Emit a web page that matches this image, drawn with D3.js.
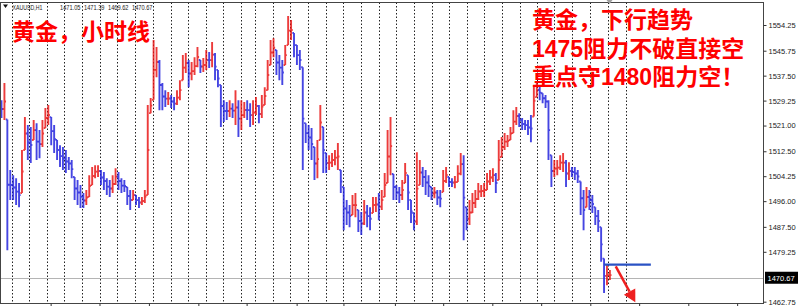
<!DOCTYPE html>
<html>
<head>
<meta charset="utf-8">
<script src="https://cdn.jsdelivr.net/npm/d3@7"></script>
<style>
body { margin: 0; background: #fff; }
.axis text { font-family: "Liberation Sans", Arial, sans-serif; font-size: 7.5px; fill: #222; }
.head { font-family: "Liberation Sans", Arial, sans-serif; font-size: 7px; fill: #222; }
.note { font-family: "Liberation Sans", "Noto Sans CJK SC", sans-serif; font-weight: bold; font-size: 23px; fill: #f00; }
</style>
</head>
<body>
<script>
const width = 800, height = 306;
const plotLeft = 0.5, plotRight = 763.5, plotTop = 2.5, plotBottom = 303.5;

// XAUUSD H1, one entry per bar slot
const highs = [1529.4,1535.1,1523.0,1506.3,1504.6,1503.6,1502.0,1512.9,1523.8,1521.2,
  1520.5,1522.8,1521.8,1519.5,1522.8,1526.8,1527.8,1523.8,1521.2,1516.2,
  1514.5,1513.9,1512.9,1510.6,1509.6,1504.0,1503.0,1501.3,1498.7,1499.7,
  1504.6,1507.3,1507.9,1507.9,1506.3,1505.6,1503.6,1503.0,1504.6,1506.9,
  1505.6,1503.6,1503.0,1500.7,1499.7,1499.7,1498.0,1497.4,1497.4,1499.7,
  1527.8,1530.1,1549.3,1547.0,1542.7,1535.1,1532.7,1532.1,1531.1,1530.4,
  1532.7,1536.0,1544.3,1545.0,1542.7,1542.0,1543.6,1547.0,1542.7,1543.3,
  1546.0,1545.3,1548.6,1545.0,1539.4,1534.4,1529.4,1528.8,1529.4,1528.4,
  1532.7,1529.4,1529.4,1528.8,1529.4,1528.4,1529.4,1530.4,1527.8,1531.1,
  1533.7,1542.7,1549.3,1549.9,1546.0,1544.3,1542.7,1547.6,1557.2,1555.9,
  1551.6,1547.6,1546.0,1540.3,1521.8,1521.2,1520.2,1513.9,1516.2,1527.8,
  1520.5,1511.9,1511.2,1511.9,1512.9,1515.2,1506.3,1500.7,1496.4,1494.7,
  1498.0,1498.7,1493.1,1492.4,1496.4,1494.7,1494.0,1497.4,1497.4,1498.7,
  1499.7,1505.3,1519.5,1523.8,1505.0,1501.3,1500.7,1503.0,1508.6,1504.6,
  1496.4,1492.1,1512.2,1509.6,1507.3,1506.3,1504.6,1500.7,1500.7,1499.7,
  1499.7,1506.3,1507.3,1504.0,1503.6,1504.3,1507.9,1511.9,1511.2,1494.0,
  1496.4,1498.7,1499.7,1502.0,1501.3,1502.0,1505.3,1506.3,1506.9,1505.3,
  1516.2,1517.2,1518.5,1517.9,1520.5,1526.1,1527.1,1525.1,1523.5,1522.8,
  1522.8,1524.5,1534.4,1535.1,1534.4,1531.7,1531.1,1529.4,1511.2,1509.6,
  1509.6,1511.2,1511.9,1509.6,1508.9,1507.3,1507.3,1506.3,1502.5,1499.7,
  1500.7,1499.7,1498.0,1494.0,1493.1,1487.4,1477.0,1474.9,1473.2];
const lows = [1523.5,1522.8,1479.8,1496.4,1496.4,1494.7,1494.0,1498.7,1512.9,1509.6,
  1508.6,1516.2,1509.6,1510.2,1513.9,1520.2,1521.2,1514.5,1511.9,1509.6,
  1507.3,1506.3,1505.3,1506.3,1503.6,1496.4,1494.7,1493.7,1493.7,1494.7,
  1497.4,1501.3,1503.6,1504.0,1501.3,1499.7,1498.0,1497.4,1498.7,1501.3,
  1499.7,1498.7,1499.0,1494.7,1493.1,1496.4,1494.7,1493.7,1494.7,1495.4,
  1498.0,1525.1,1529.5,1537.0,1526.1,1526.1,1527.1,1527.8,1526.8,1526.1,
  1527.8,1529.4,1536.0,1538.4,1533.7,1536.0,1537.7,1540.3,1538.4,1538.7,
  1539.4,1540.0,1540.3,1536.0,1533.7,1520.5,1522.2,1522.8,1523.8,1523.5,
  1521.2,1517.2,1519.5,1523.5,1522.8,1520.5,1521.2,1524.5,1521.8,1523.5,
  1527.8,1532.7,1541.0,1543.6,1537.7,1536.0,1534.4,1541.0,1547.6,1549.3,
  1543.6,1541.0,1539.4,1506.3,1515.2,1512.9,1509.6,1503.0,1503.6,1516.2,
  1505.3,1505.3,1506.3,1507.3,1507.9,1506.3,1498.7,1486.4,1488.1,1487.4,
  1491.4,1490.7,1485.8,1484.8,1488.1,1487.4,1486.4,1492.1,1492.4,1489.7,
  1493.1,1497.4,1502.0,1504.6,1496.4,1496.4,1495.4,1496.4,1502.0,1493.1,
  1488.8,1486.4,1488.1,1501.3,1500.7,1498.0,1497.4,1496.4,1497.0,1494.7,
  1494.0,1499.0,1502.0,1500.7,1500.7,1500.3,1502.3,1504.6,1483.1,1486.4,
  1488.1,1492.1,1493.7,1496.4,1497.4,1497.4,1499.7,1501.3,1502.3,1498.7,
  1503.0,1510.6,1512.9,1513.9,1516.2,1518.5,1521.2,1520.5,1519.5,1519.5,
  1517.9,1515.5,1524.0,1530.4,1529.4,1528.4,1526.8,1509.6,1500.7,1504.0,
  1504.6,1506.3,1505.6,1500.7,1503.0,1504.0,1503.0,1502.0,1491.4,1486.4,
  1494.0,1493.1,1492.1,1488.1,1485.8,1476.0,1465.6,1468.2,1469.9];

// day separators, in bar slots
const daySeps = [3.5,9.5,15.4,21.5,27.6,33.7,39.6,45.6,51.7,57.8,63.8,69.8,75.8,81.8,
  86.8,92.7,98.6,104.9,110.9,116.9,122.9,129.0,135.0,140.9,147.1,153.1,159.0,
  165.0,171.0,177.1,183.1,189.0,195.0,201.2,207.2,213.4];
const timeTicks = [16.8,33.5,50.4,67.3,83.8,100.9,116.9,134.5,151,167.8,184.5,201.3,218,234.8,251.5];

const priceTicks = [1554.25,1545.75,1537.50,1529.25,1521.00,1512.50,1504.25,1496.00,1487.50,1479.25,1462.75];
const symbol = "XAUUSD,H1";
const ohlc = ["1471.05","1471.39","1469.62","1470.67"];
const lastPrice = 1470.67;

const resistance = {price: 1475, from: 206, to: 222};
const arrowFrom = {bar: 210, price: 1474.4};
const arrowTo = {bar: 216.7, price: 1462.6};

const titleLeft = "黄金，小时线";
const notesRight = ["黄金，下行趋势", "1475阻力不破直接空", "重点守1480阻力空！"];

const svg = d3.select("body").append("svg")
  .attr("width", width)
  .attr("height", height);

const x = d3.scaleLinear()
  .domain([0, 260])
  .range([1.5, 1.5 + 2.925*260]);

const y = d3.scaleLinear()
  .domain([1462.75, 1554.25])
  .range([301.7, 25]);

// day separators
svg.append("g")
  .selectAll("line")
  .data(daySeps)
  .enter()
  .append("line")
  .attr("x1", d => Math.round(x(d)) + 0.5)
  .attr("x2", d => Math.round(x(d)) + 0.5)
  .attr("y1", plotTop)
  .attr("y2", plotBottom)
  .attr("stroke", "#222")
  .attr("stroke-width", 1)
  .attr("stroke-dasharray", "1.5,2");

// last price line
svg.append("line")
  .attr("x1", plotLeft)
  .attr("x2", plotRight)
  .attr("y1", Math.round(y(lastPrice)) + 0.5)
  .attr("y2", Math.round(y(lastPrice)) + 0.5)
  .attr("stroke", "#b4b4b4");

// bars: vertical high-low, open tick at previous mid, close tick at own mid
const mids = highs.map((h, i) => (h + lows[i]) / 2);
const barPath = (d, i) => {
  const cx = x(i);
  const o = i > 0 ? mids[i-1] : mids[i];
  const oc = Math.min(Math.max(o, lows[i]), d);
  return `M${cx},${y(d)}V${y(lows[i])}M${cx-1.6},${y(oc)}H${cx}M${cx},${y(mids[i])}H${cx+1.6}`;
};
svg.append("g")
  .selectAll("path")
  .data(highs)
  .enter()
  .append("path")
  .attr("d", barPath)
  .attr("fill", "none")
  .attr("stroke", (d, i) => (i > 0 && mids[i] >= mids[i-1]) ? "#e81010" : "#1c1cdc")
  .attr("stroke-width", 1.9)
  .attr("stroke-opacity", 0.82);

// frame
svg.append("rect")
  .attr("x", plotLeft)
  .attr("y", plotTop)
  .attr("width", plotRight - plotLeft)
  .attr("height", plotBottom - plotTop)
  .attr("fill", "none")
  .attr("stroke", "#444");

// price axis
const axisY = d3.axisRight(y)
  .tickValues(priceTicks)
  .tickSize(3)
  .tickPadding(2)
  .tickFormat(d3.format(".2f"));

const gy = svg.append("g")
  .attr("class", "axis")
  .attr("transform", `translate(${plotRight}, 0)`)
  .call(axisY);
gy.select(".domain").remove();
gy.selectAll(".tick line").attr("stroke", "#333");

// time axis (labels fall outside the picture)
const axisX = d3.axisBottom(x)
  .tickValues(timeTicks)
  .tickSize(3)
  .tickFormat("");
const gx = svg.append("g")
  .attr("class", "axis")
  .attr("transform", `translate(0, ${plotBottom})`)
  .call(axisX);
gx.select(".domain").remove();
gx.selectAll(".tick line").attr("stroke", "#333");

// last price label
const ly = y(lastPrice);
svg.append("rect")
  .attr("x", plotRight + 1.5)
  .attr("y", ly - 6)
  .attr("width", 33)
  .attr("height", 12)
  .attr("fill", "#000");
svg.append("text")
  .attr("x", plotRight + 4)
  .attr("y", ly + 2.8)
  .attr("fill", "#fff")
  .style("font-family", "Liberation Sans, Arial, sans-serif")
  .style("font-size", "7.5px")
  .text(d3.format(".2f")(lastPrice));

// header: symbol and OHLC in one line
svg.append("path")
  .attr("d", "M3,4.5 L8,4.5 L5.5,8 Z")
  .attr("fill", "#111");
const head = svg.append("text")
  .attr("class", "head")
  .attr("y", 9.8);
head.append("tspan")
  .attr("x", 12.5)
  .attr("textLength", 30)
  .attr("lengthAdjust", "spacingAndGlyphs")
  .text(symbol);
head.selectAll("tspan.v")
  .data(ohlc)
  .enter()
  .append("tspan")
  .attr("class", "v")
  .attr("x", (d, i) => 60 + i*24)
  .attr("textLength", 20.5)
  .attr("lengthAdjust", "spacingAndGlyphs")
  .text(d => d);

// chart shift marker
svg.append("path")
  .attr("d", "M606.5,0 L612.5,0 L609.5,4 Z")
  .attr("fill", "#a0a0a0");

// resistance line
svg.append("line")
  .attr("x1", x(resistance.from))
  .attr("x2", x(resistance.to))
  .attr("y1", y(resistance.price))
  .attr("y2", y(resistance.price))
  .attr("stroke", "#2a52c4")
  .attr("stroke-width", 2.2);

// red arrow
const ax0 = x(arrowFrom.bar), ay0 = y(arrowFrom.price);
const ax1 = x(arrowTo.bar), ay1 = y(arrowTo.price);
const len = Math.hypot(ax1 - ax0, ay1 - ay0);
const ux = (ax1 - ax0)/len, uy = (ay1 - ay0)/len;
const bx = ax1 - ux*12, by = ay1 - uy*12;
svg.append("line")
  .attr("x1", ax0).attr("y1", ay0)
  .attr("x2", bx).attr("y2", by)
  .attr("stroke", "#ee2020")
  .attr("stroke-width", 2.5);
svg.append("path")
  .attr("d", `M${ax1},${ay1} L${bx - uy*6.5},${by + ux*6.5} L${bx + uy*6.5},${by - ux*6.5} Z`)
  .attr("fill", "#ee2020");

// notes
svg.append("text")
  .attr("class", "note")
  .attr("x", 12)
  .attr("y", 39.5)
  .text(titleLeft);

svg.append("g")
  .selectAll("text")
  .data(notesRight)
  .enter()
  .append("text")
  .attr("class", "note")
  .attr("x", 532)
  .attr("y", (d, i) => 28 + i*28.5)
  .text(d => d);
</script>
</body>
</html>
